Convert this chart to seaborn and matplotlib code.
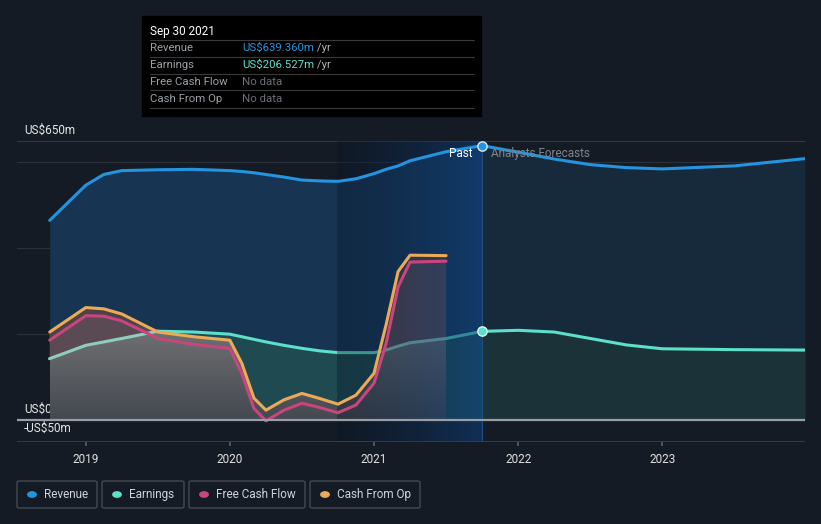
import numpy as np
import pandas as pd
import matplotlib.pyplot as plt
import matplotlib.patches as mpatches
from matplotlib.path import Path
import seaborn as sns

# === Données (US$ m) ===
past_t = [2018.75, 2019.0, 2019.125, 2019.25, 2019.5, 2019.75, 2020.0, 2020.083,
          2020.167, 2020.25, 2020.375, 2020.5, 2020.625, 2020.75, 2020.875, 2021.0,
          2021.083, 2021.167, 2021.25, 2021.5, 2021.75]
revenue_past = [465, 547, 572, 581, 583, 584, 581, 579, 576, 572, 566, 559, 557, 556,
                562, 574, 584, 592, 604, 625, 639.36]
earnings_past = [143, 174, 182, 190, 207, 205, 200, 194, 188, 182, 174, 167, 161, 157,
                 157, 157, 163, 172, 180, 190, 206.527]

# cash flows : mêmes dates, sans le dernier trimestre
cf_t = past_t[:-1]
fcf = [186, 243, 242, 231, 190, 176, 167, 108, 27, -2, 23, 39, 29, 17, 35, 86,
       177, 310, 368, 370]
cfo = [205, 262, 259, 247, 205, 194, 186, 132, 51, 23, 47, 62, 50, 37, 58, 109,
       221, 346, 384, 383]

fc_t = [2021.75, 2022.0, 2022.25, 2022.5, 2022.75, 2023.0, 2023.5, 2023.99]
revenue_fc = [639.36, 624, 608, 595, 588, 585, 592, 609]
earnings_fc = [206.527, 209, 205, 190, 175, 166, 164, 163]

year_ticks = [2019, 2020, 2021, 2022, 2023]

# === Couleurs ===
bg = "#151b25"
c_rev = "#2394df"
c_earn = "#5ce0c8"
c_fcf = "#c9457e"
c_cfo = "#eaab58"

W, H = 821, 524

def fx(x):
    return x / W

def fy(y):
    return 1 - y / H

sns.set_theme(style="dark")
plt.rcParams["font.family"] = ["Roboto", "DejaVu Sans"]

fig = plt.figure(figsize=(W / 100, H / 100), dpi=100, facecolor=bg)
ax = fig.add_axes([fx(17), fy(441.5), fx(805) - fx(17), fy(141) - fy(441.5)])
ax.set_facecolor(bg)

x0, x1 = 2018.523, 2023.99
ax.set_xlim(x0, x1)
ax.set_ylim(-50, 650)

# === Grille ===
for v in [200, 400, 600]:
    ax.axhline(v, color="#2a313c", lw=0.8, zorder=1)
ax.axhline(650, color="#3b414b", lw=1.2, zorder=1)
ax.axhline(-50, color="#3b414b", lw=1.2, zorder=1)

# === Remplissages ===
ax.fill_between(past_t, revenue_past, 0, color="#173553", lw=0, zorder=2)
ax.fill_between(fc_t, revenue_fc, 0, color="#172a3c", lw=0, zorder=2)
ax.fill_between(past_t, earnings_past, 0, color="#1f4a52", lw=0, zorder=3)
ax.fill_between(fc_t, earnings_fc, 0, color="#1c3239", lw=0, zorder=3)

earn_cf = np.array(earnings_past[:-1])
cfo_a = np.array(cfo)
fcf_a = np.array(fcf)

sns.lineplot(x=past_t, y=earnings_past, color=c_earn, lw=2.2, ax=ax, zorder=4)

# zone sous earnings et cash flow : gris en dégradé
low = np.minimum(earn_cf, cfo_a)
verts = list(zip(cf_t, low)) + list(zip(cf_t[::-1], np.zeros(len(cf_t))))
clip = Path(verts + [verts[0]], closed=True)
vgrad = np.linspace(0, 1, 256)[:, None]
img = np.zeros((256, 2, 4))
img[..., 0] = (112 - 44 * vgrad) / 255
img[..., 1] = (113 - 41 * vgrad) / 255
img[..., 2] = (114 - 34 * vgrad) / 255
img[..., 3] = 1.0
im = ax.imshow(img, extent=[cf_t[0], cf_t[-1], 0, 215], aspect="auto", zorder=5,
               interpolation="bilinear")
im.set_clip_path(clip, transform=ax.transData)

# zone au-dessus des earnings, sous le cash flow : rose-gris
ax.fill_between(cf_t, earn_cf, cfo_a, where=cfo_a > earn_cf, interpolate=True,
                color="#5a4a53", lw=0, zorder=5)
ax.fill_between(cf_t, np.maximum(earn_cf, fcf_a), cfo_a, where=cfo_a > earn_cf,
                interpolate=True, color="#4e4148", lw=0, zorder=5)

# earnings pâle là où le cash flow passe dessus
pale = np.where(earn_cf <= cfo_a + 2, earn_cf, np.nan)
ax.plot(cf_t, pale, color="#8ecdc0", lw=2.2, zorder=5.5, solid_capstyle="round")

# bande "past" (dégradé)
grad = np.zeros((2, 256, 4))
t = np.linspace(0, 1, 256)
grad[..., 0] = 0.03 + 0.02 * t
grad[..., 1] = 0.08 + 0.17 * t
grad[..., 2] = 0.14 + 0.36 * t
grad[..., 3] = 0.35 + 0.2 * t
ax.imshow(grad, extent=[2020.74, 2021.75, -50, 650], aspect="auto", zorder=6,
          interpolation="bilinear")
ax.axvline(2021.75, color="#1c4f85", lw=0.8, zorder=6)
ax.set_xlim(x0, x1)
ax.set_ylim(-50, 650)

# === Lignes ===
sns.lineplot(x=cf_t, y=fcf, color=c_fcf, lw=2.2, ax=ax, zorder=7)
sns.lineplot(x=cf_t, y=cfo, color=c_cfo, lw=2.2, ax=ax, zorder=7)
sns.lineplot(x=fc_t, y=earnings_fc, color=c_earn, lw=2.2, ax=ax, zorder=7)
sns.lineplot(x=past_t, y=revenue_past, color=c_rev, lw=2.2, ax=ax, zorder=8)
sns.lineplot(x=fc_t, y=revenue_fc, color=c_rev, lw=2.2, ax=ax, zorder=8)

ax.axhline(0, color="#9a9ea4", lw=1.6, zorder=9)

ax.scatter([2021.75], [revenue_past[-1]], s=45, color=c_rev, edgecolor="#d8e8f5", lw=1, zorder=10)
ax.scatter([2021.75], [earnings_past[-1]], s=45, color=c_earn, edgecolor="#e0f5f0", lw=1, zorder=10)

# === Axes ===
ax.set_xticks(year_ticks)
ax.set_xticklabels([str(y) for y in year_ticks], color="#e0e0e0", fontsize=8.5)
ax.tick_params(axis="x", length=3, color="#555b65", pad=5, bottom=True)
ax.set_yticks([])
for s in ax.spines.values():
    s.set_visible(False)

ax.text(2018.57, 660, "US$650m", color="#e6e6e6", fontsize=8.5, va="bottom")
ax.text(2018.57, 9, "US$0", color="#e6e6e6", fontsize=8.5, va="bottom")
ax.text(2018.57, -5, "-US$50m", color="#e6e6e6", fontsize=8.5, va="top")

ax.text(2021.68, 620, "Past", color="#ffffff", fontsize=8.5, ha="right", va="center", zorder=11)
ax.text(2021.81, 620, "Analysts Forecasts", color="#80858c", fontsize=8.5, ha="left", va="center", zorder=11)

# === Infobulle ===
fig.patches.append(mpatches.Rectangle((fx(142), fy(116)), fx(481) - fx(142), fy(16) - fy(116),
                                      transform=fig.transFigure, color="#000000", zorder=1))
fig.text(fx(150), fy(31), "Sep 30 2021", color="#ffffff", fontsize=8.5, va="center")
rows = [("Revenue", "US$639.360m", c_rev, " /yr"),
        ("Earnings", "US$206.527m", c_earn, " /yr"),
        ("Free Cash Flow", "No data", "#6b7078", ""),
        ("Cash From Op", "No data", "#6b7078", "")]
for i, (lab, val, col, unit) in enumerate(rows):
    yy = 48 + 17 * i
    fig.lines.append(plt.Line2D([fx(150), fx(474)], [fy(yy - 8.5), fy(yy - 8.5)],
                                transform=fig.transFigure, color="#3a3a3a", lw=0.8))
    fig.text(fx(150), fy(yy), lab, color="#9aa0a6", fontsize=8.2, va="center")
    tv = fig.text(fx(242), fy(yy), val, color=col, fontsize=8.2, va="center")
    if unit:
        fig.canvas.draw()
        bb = tv.get_window_extent()
        fig.text(bb.x1 / W, fy(yy), unit, color="#b0b4b8", fontsize=8.2, va="center")
fig.lines.append(plt.Line2D([fx(150), fx(474)], [fy(108), fy(108)],
                            transform=fig.transFigure, color="#3a3a3a", lw=0.8))

# === Légende ===
legend = [("Revenue", c_rev, 17, 97), ("Earnings", c_earn, 102, 184),
          ("Free Cash Flow", c_fcf, 189, 305), ("Cash From Op", c_cfo, 310, 420)]
for name, col, a, b in legend:
    fig.patches.append(mpatches.FancyBboxPatch((fx(a), fy(508)), fx(b) - fx(a), fy(481) - fy(508),
                                               boxstyle="round,pad=0,rounding_size=0.003",
                                               transform=fig.transFigure, fc="none",
                                               ec="#444a54", lw=1))
    fig.patches.append(mpatches.Circle((fx(a + 15), fy(494.5)), 4.2 / W, transform=fig.transFigure,
                                       color=col))
    fig.text(fx(a + 27), fy(494.5), name, color="#d0d3d8", fontsize=8.5, va="center")

fig.savefig("out.png", dpi=100, facecolor=bg)
